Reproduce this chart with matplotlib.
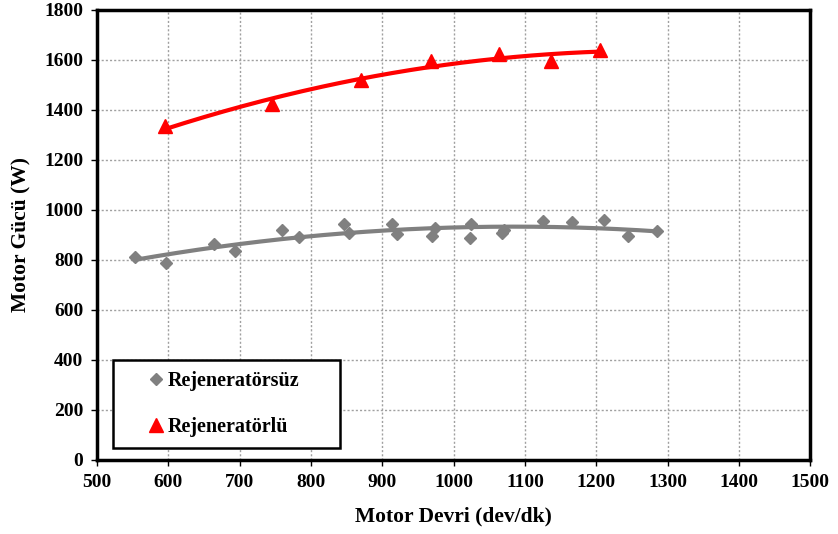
import numpy as np
import matplotlib
matplotlib.use('Agg')
import matplotlib.pyplot as plt

# ---------------------------------------------
# Data
# ---------------------------------------------
devir_rejsiz = [553, 597, 664, 694, 760, 783, 846, 853, 913, 921, 970, 974,
                1023, 1025, 1068, 1071, 1126, 1166, 1211, 1245, 1285]
guc_rejsiz = [813, 789, 862, 836, 921, 892, 945, 909, 942, 903, 896, 929,
              888, 945, 908, 918, 955, 951, 960, 896, 914]

devir_rejli = [595, 745, 870, 968, 1063, 1137, 1205]
guc_rejli = [1334, 1422, 1520, 1595, 1622, 1597, 1639]

x_ticks = list(range(500, 1501, 100))
y_ticks = list(range(0, 1801, 200))

plt.rcParams['font.family'] = ['Liberation Serif', 'DejaVu Serif']
plt.rcParams['font.weight'] = 'bold'

fig = plt.figure(figsize=(8.38, 5.34), dpi=100)
ax = fig.add_axes([0.1158, 0.1386, 0.851, 0.8427])

# 2nd order polynomial trend lines (as in the spreadsheet)
for xs, ys, col in [(devir_rejsiz, guc_rejsiz, '#808080'),
                    (devir_rejli, guc_rejli, '#ff0000')]:
    k = np.polyfit(xs, ys, 2)
    xx = np.linspace(min(xs), max(xs), 200)
    ax.plot(xx, np.polyval(k, xx), color=col, lw=3, zorder=2)

ax.plot(devir_rejsiz, guc_rejsiz, 'D', color='#808080', ms=6.5,
        label='Rejeneratörsüz', zorder=3)
ax.plot(devir_rejli, guc_rejli, '^', color='#ff0000', ms=10,
        label='Rejeneratörlü', zorder=3)

ax.set_xlim(500, 1500)
ax.set_ylim(0, 1800)
ax.set_xticks(x_ticks)
ax.set_yticks(y_ticks)
ax.tick_params(labelsize=14, length=4, width=1, direction='out', pad=6)
for lab in ax.get_xticklabels() + ax.get_yticklabels():
    lab.set_fontweight('bold')

ax.grid(True, color='#a0a0a0', linestyle=(0, (1.5, 1.5)), lw=1)
ax.set_axisbelow(True)
for sp in ax.spines.values():
    sp.set_linewidth(2.5)

ax.set_xlabel('Motor Devri (dev/dk)', fontsize=15.5, fontweight='bold', labelpad=11)
ax.set_ylabel('Motor Gücü (W)', fontsize=15.5, fontweight='bold', labelpad=9)

leg = ax.legend(loc='lower left', bbox_to_anchor=(0.022, 0.027, 0.318, 0.189),
                mode='expand', fancybox=False, framealpha=1, edgecolor='black',
                prop={'weight': 'bold', 'size': 14.5}, borderpad=0.55,
                labelspacing=1.3, handletextpad=-1.0, handlelength=3.2,
                borderaxespad=0, numpoints=1)
leg.get_frame().set_linewidth(1.8)
leg.set_zorder(5)

fig.savefig('out.png', dpi=100)
